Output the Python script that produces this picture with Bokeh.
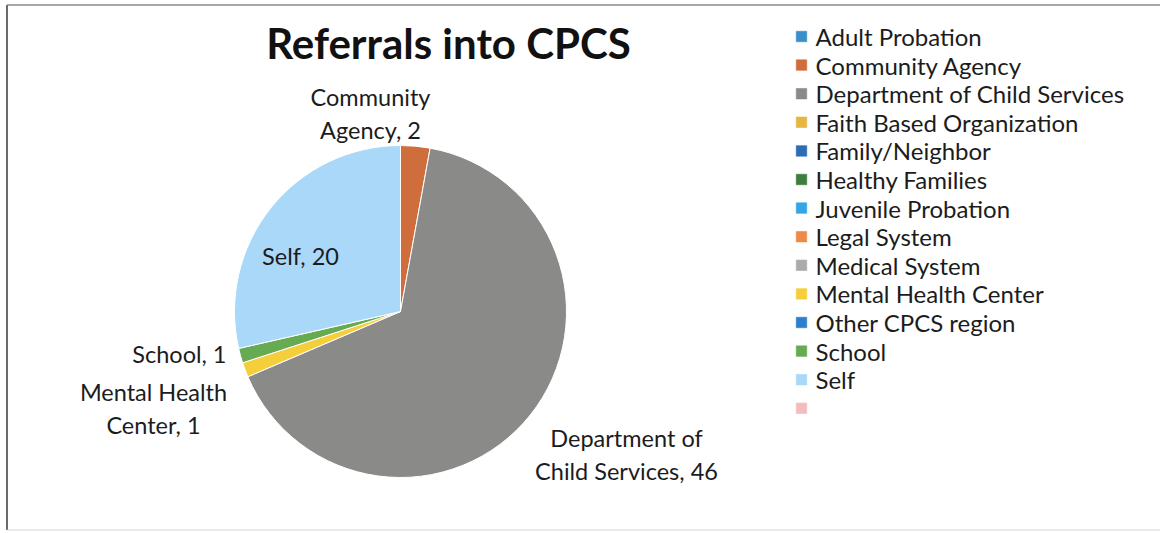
import math
from bokeh.plotting import figure
from bokeh.models import ColumnDataSource, Range1d
from bokeh.core.properties import value
from bokeh.embed import file_html
from bokeh.resources import INLINE

# ---- data ----
categories = ["Adult Probation", "Community Agency", "Department of Child Services",
              "Faith Based Organization", "Family/Neighbor", "Healthy Families",
              "Juvenile Probation", "Legal System", "Medical System",
              "Mental Health Center", "Other CPCS region", "School", "Self", ""]
counts = [0, 2, 46, 0, 0, 0, 0, 0, 0, 1, 0, 1, 20, 0]
colors = ["#3A8FCB", "#CF6E3C", "#8A8B89", "#E8B540", "#2C6DB5", "#3E7E3C",
          "#33A6E6", "#EE8948", "#ABABAB", "#F5CF3B", "#2B7FCD", "#66AA52",
          "#A9D8F8", "#F3BDBD"]
label_texts = {"Community Agency": "Community\nAgency, 2",
               "Department of Child Services": "Department of\nChild Services, 46",
               "Mental Health Center": "Mental Health\nCenter, 1",
               "School": "School, 1",
               "Self": "Self, 20"}
title_text = "Referrals into CPCS"

# ---- layout (image pixel coordinates; y converted to data upward) ----
W, H = 1160, 532
IMG_H = 533
def Y(img_y):
    return IMG_H - img_y

cx, cy, R = 400, Y(311), 166
FONT = "Lato"
TXT = "#1c1c1c"

total = sum(counts)
starts, ends = [], []
acc = 0
for c in counts:
    a0 = math.pi / 2 - 2 * math.pi * acc / total
    acc += c
    a1 = math.pi / 2 - 2 * math.pi * acc / total
    starts.append(a0)
    ends.append(a1)

nz = [i for i, c in enumerate(counts) if c > 0]
pie_src = ColumnDataSource(dict(cat=[categories[i] for i in nz],
                                n=[counts[i] for i in nz],
                                color=[colors[i] for i in nz],
                                start=[starts[i] for i in nz],
                                end=[ends[i] for i in nz]))

p = figure(width=W, height=H, output_backend="svg", toolbar_location=None,
           x_range=Range1d(0, W), y_range=Range1d(Y(H), Y(0)),
           min_border=0, outline_line_color=None, background_fill_color="white")
p.axis.visible = False
p.grid.visible = False

p.wedge(x=cx, y=cy, radius=R, start_angle="start", end_angle="end",
        direction="clock", fill_color="color", line_color="white",
        line_width=1, source=pie_src)

# border of the chart area
p.segment(x0=[6.5, 6.5, 6.5], y0=[Y(4.5), Y(4.5), Y(529.5)],
          x1=[6.5, 1161, 1161], y1=[Y(529.5), Y(4.5), Y(529.5)],
          line_color=["#6b6b6b", "#8a8a8a", "#d5d5d5"], line_width=[2, 1.5, 1])

# title
p.text(x=[448], y=[Y(42)], text=[title_text], text_font=value(FONT),
       text_font_style="bold", text_font_size="42px", text_align="center",
       text_baseline="middle", text_color="#111111")

# data labels
lab_pos = {"Community Agency": (370, 113, "center"),
           "Department of Child Services": (626, 454, "center"),
           "Mental Health Center": (153, 408, "center"),
           "School": (226, 353, "right"),
           "Self": (300, 255, "center")}
for k, txt in label_texts.items():
    x, y, al = lab_pos[k]
    p.text(x=[x], y=[Y(y)], text=[txt], text_font=value(FONT),
           text_font_size="23.5px", text_align=al, text_baseline="middle",
           text_color=TXT, text_line_height=1.2)

# legend (drawn from the category arrays)
leg_x, leg_y0, leg_dy = 801, 36, 28.6
leg_src = ColumnDataSource(dict(
    x=[leg_x] * len(categories),
    y=[Y(leg_y0 + i * leg_dy) for i in range(len(categories))],
    tx=[leg_x + 14] * len(categories),
    label=categories, color=colors))
p.scatter(x="x", y="y", marker="square", size=10.5, fill_color="color",
          line_color="color", line_alpha=0.6, source=leg_src)
p.text(x="tx", y="y", text="label", text_font=value(FONT),
       text_font_size="24px", text_baseline="middle", text_color=TXT,
       source=leg_src)

open("out.html", "w").write(file_html(p, INLINE))
